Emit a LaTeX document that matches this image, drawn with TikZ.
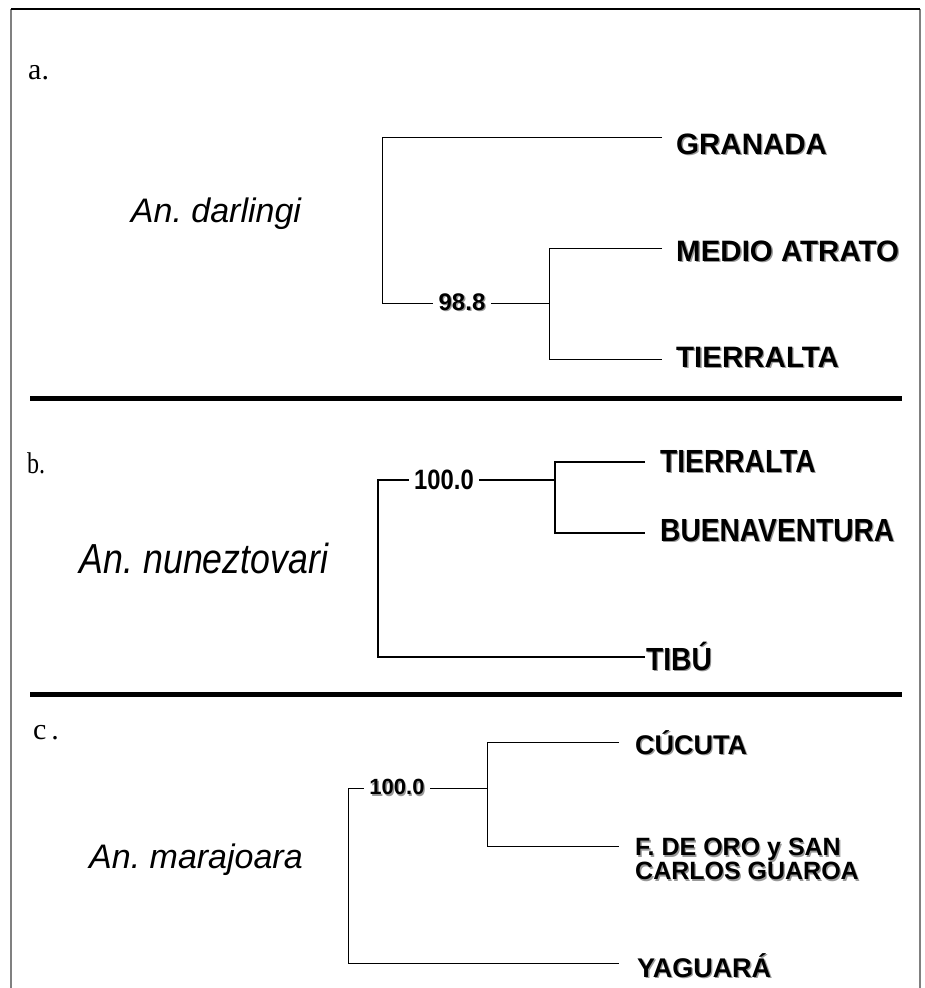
\documentclass[tikz,border=0pt]{standalone}
\usepackage{fontspec}
\setmainfont{Liberation Serif}
\setsansfont{Liberation Sans}
\usepackage{graphicx}
\frenchspacing
\newcommand\shd[1]{\makebox[0pt][l]{\hspace{1.3pt}\raisebox{-1.3pt}{\color{black!40}#1}}#1}
\begin{document}
\begin{tikzpicture}[x=1pt,y=-1pt,
  branch/.style={draw=black,line width=1pt},
  branchb/.style={draw=black,line width=1.6pt},
  sep/.style={draw=black,line width=5pt},
  frameline/.style={draw=black!50,line width=2pt},
  leafa/.style={anchor=west,inner sep=0pt,font=\sffamily\bfseries\fontsize{29.5}{29.5}\selectfont},
  leafb/.style={anchor=west,inner sep=0pt,font=\sffamily\bfseries\fontsize{32}{32}\selectfont},
  leafc/.style={anchor=west,inner sep=0pt,align=left,font=\sffamily\bfseries\fontsize{27}{27}\selectfont},
  leafcc/.style={anchor=west,inner sep=0pt,align=left,font=\sffamily\bfseries\fontsize{25}{24}\selectfont},
  support/.style={fill=white,inner xsep=6pt,inner ysep=1pt,font=\sffamily\bfseries\fontsize{24}{24}\selectfont},
  species/.style={inner sep=0pt,font=\sffamily\itshape\fontsize{34}{34}\selectfont},
  panel/.style={anchor=west,inner sep=0pt,font=\rmfamily\fontsize{30}{30}\selectfont}]
\useasboundingbox (0,0) rectangle (925,988);
% frame
\coordinate (fTL) at (11,9);
\coordinate (fTR) at (920,9);
\coordinate (fBL) at (11,988);
\coordinate (fBR) at (920,988);
\draw[frameline] (fBL) -- (fTL);
\draw[frameline] (fTR) -- (fBR);
\draw[black,line width=1.2pt] (fTL) -- (fTR);
% separators
\coordinate (s1L) at (30,398);
\coordinate (s1R) at (902,398);
\coordinate (s2L) at (30,694);
\coordinate (s2R) at (902,694);
\draw[sep] (s1L) -- (s1R);
\draw[sep] (s2L) -- (s2R);

% ---------- panel a ----------
\node[panel] (pa) at (28,73) {a.};
\node[species] (spa) at (216,214) {An. darlingi};
\coordinate (aR1) at (382,137);
\coordinate (aR2) at (382,303);
\coordinate (aI)  at (549,303);
\coordinate (aI1) at (549,248);
\coordinate (aI2) at (549,359);
\coordinate (aE1) at (662,137);
\coordinate (aE2) at (662,248);
\coordinate (aE3) at (662,359);
\draw[branch] (aE1) -- (aR1) -- (aR2) -- (aI);
\draw[branch] (aE2) -- (aI1) -- (aI2) -- (aE3);
\node[support] (sa) at (462,303) {\shd{98.8}};
\node[leafa] (lgra) at (676,145) {\shd{GRANADA}};
\node[leafa] (lmed) at (676,252) {\shd{MEDIO ATRATO}};
\node[leafa] (ltia) at (676,358) {\shd{TIERRALTA}};

% ---------- panel b ----------
\node[panel] (pb) at (27,463) {\scalebox{0.8}[1]{b.}};
\node[species] (spb) at (204,558) {\fontsize{42}{42}\selectfont\scalebox{0.85}[1]{An. nuneztovari}};
\coordinate (bR1) at (378,480);
\coordinate (bR2) at (378,657);
\coordinate (bI)  at (555,480);
\coordinate (bI1) at (555,462);
\coordinate (bI2) at (555,533);
\coordinate (bE1) at (645,462);
\coordinate (bE2) at (645,533);
\coordinate (bE3) at (645,657);
\draw[branchb] (bI) -- (bR1) -- (bR2) -- (bE3);
\draw[branchb] (bE1) -- (bI1) -- (bI2) -- (bE2);
\node[support,inner xsep=5pt] (sb) at (444,480) {\fontsize{28}{28}\selectfont\scalebox{0.85}[1]{100.0}};
\node[leafb] (ltib) at (660,462) {\scalebox{0.88}[1]{\shd{TIERRALTA}}};
\node[leafb] (lbue) at (660,531) {\scalebox{0.88}[1]{\shd{BUENAVENTURA}}};
\node[leafb] (ltibu) at (646,657) {\scalebox{0.88}[1]{\shd{TIBÚ}}};

% ---------- panel c ----------
\node[panel] (pc) at (33,733) {c\,.};
\node[species] (spc) at (196,860) {An. marajoara};
\coordinate (cR1) at (348,788);
\coordinate (cR2) at (348,963);
\coordinate (cI)  at (487,788);
\coordinate (cI1) at (487,742);
\coordinate (cI2) at (487,846);
\coordinate (cE1) at (619,742);
\coordinate (cE2) at (619,846);
\coordinate (cE3) at (619,963);
\draw[branch] (cI) -- (cR1) -- (cR2) -- (cE3);
\draw[branch] (cE1) -- (cI1) -- (cI2) -- (cE2);
\node[support,inner xsep=5pt,font=\sffamily\bfseries\fontsize{22}{22}\selectfont] (sc) at (397,788) {\shd{100.0}};
\node[leafc] (lcuc) at (635,743) {\shd{CÚCUTA}};
\node[leafcc] (lfde) at (635,860) {\shd{F. DE ORO y SAN}\\\shd{CARLOS GUAROA}};
\node[leafc] (lyag) at (637,966) {\shd{YAGUARÁ}};
\end{tikzpicture}
\end{document}
